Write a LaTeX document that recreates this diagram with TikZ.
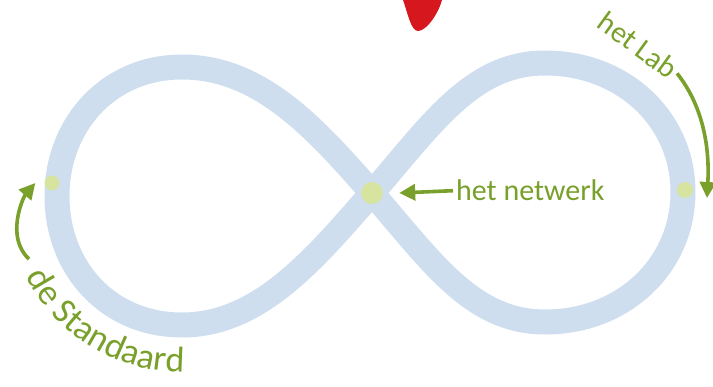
\documentclass[tikz,border=0pt]{standalone}
\usepackage{fontspec}
\newfontfamily\handfont{Carlito}
\usetikzlibrary{arrows.meta,decorations.text}
\definecolor{cBand}{RGB}{206,222,238}
\definecolor{cDot}{RGB}{214,228,160}
\definecolor{cLabel}{RGB}{120,160,42}
\definecolor{cDrop}{RGB}{214,24,30}

\begin{document}
\begin{tikzpicture}[
  x=1pt, y=-1pt,
  band/.style = {draw=cBand, line width=25pt, line join=round},
  dot/.style  = {circle, fill=cDot, inner sep=0pt},
  lbl/.style  = {text=cLabel, font=\handfont\fontsize{30}{30}\selectfont, inner sep=3pt},
  pijl/.style = {draw=cLabel, line width=3.6pt, -{Triangle[length=16pt,width=16pt]}}
]
\useasboundingbox (0,0) rectangle (713,387);

% ------------------------------------------------------------- de lus --
\coordinate (kruis) at (372,193);
\draw[band] (kruis)
  .. controls (312,124) and (258,67) .. (182,67)
  .. controls (108,67) and (57,125) .. (57,196)
  .. controls (57,268) and (108,325) .. (182,325)
  .. controls (258,325) and (312,262) .. (kruis)
  .. controls (432,124) and (472,63) .. (545,63)
  .. controls (624,63) and (683,120) .. (683,192)
  .. controls (683,265) and (624,322) .. (545,322)
  .. controls (472,322) and (432,262) .. cycle;

\node[dot, minimum size=15pt] (ldot) at (52,183)  {};
\node[dot, minimum size=22pt] (mdot) at (372,193) {};
\node[dot, minimum size=16pt] (rdot) at (685,190) {};

% ------------------------------------------------------------ labels --
\node[lbl, anchor=base west] (netwerk) at (453,201) {het netwerk};
\node[lbl, rotate=-36]       (lab)     at (638,45)  {het Lab};

% de Standaard loopt mee met de linkerlus
\path[decorate, decoration={text along path, text align=center,
      text={|\handfont\fontsize{36}{36}\selectfont\color{cLabel}|de Standaard}}]
  (182,196) ++(160:176) arc[start angle=160, end angle=82, radius=176];

% ------------------------------------------------------------- pijlen --
\coordinate (labpunt) at (707,198);
\coordinate (stdvoet) at (29,259);

\draw[pijl] (netwerk.west) -- ([xshift=16pt]mdot.east);
\draw[pijl] (lab.east) .. controls +(24,30) and +(3,-55) .. (labpunt);
\draw[pijl] (stdvoet) .. controls +(-24,-22) and +(-12,14) .. ([xshift=-9pt]ldot.west);

% de rode punt bovenaan
\fill[cDrop] (403,0) .. controls (408,14) and (411,31) .. (418,31)
  .. controls (427,31) and (439,12) .. (442,0) -- cycle;

\end{tikzpicture}
\end{document}
